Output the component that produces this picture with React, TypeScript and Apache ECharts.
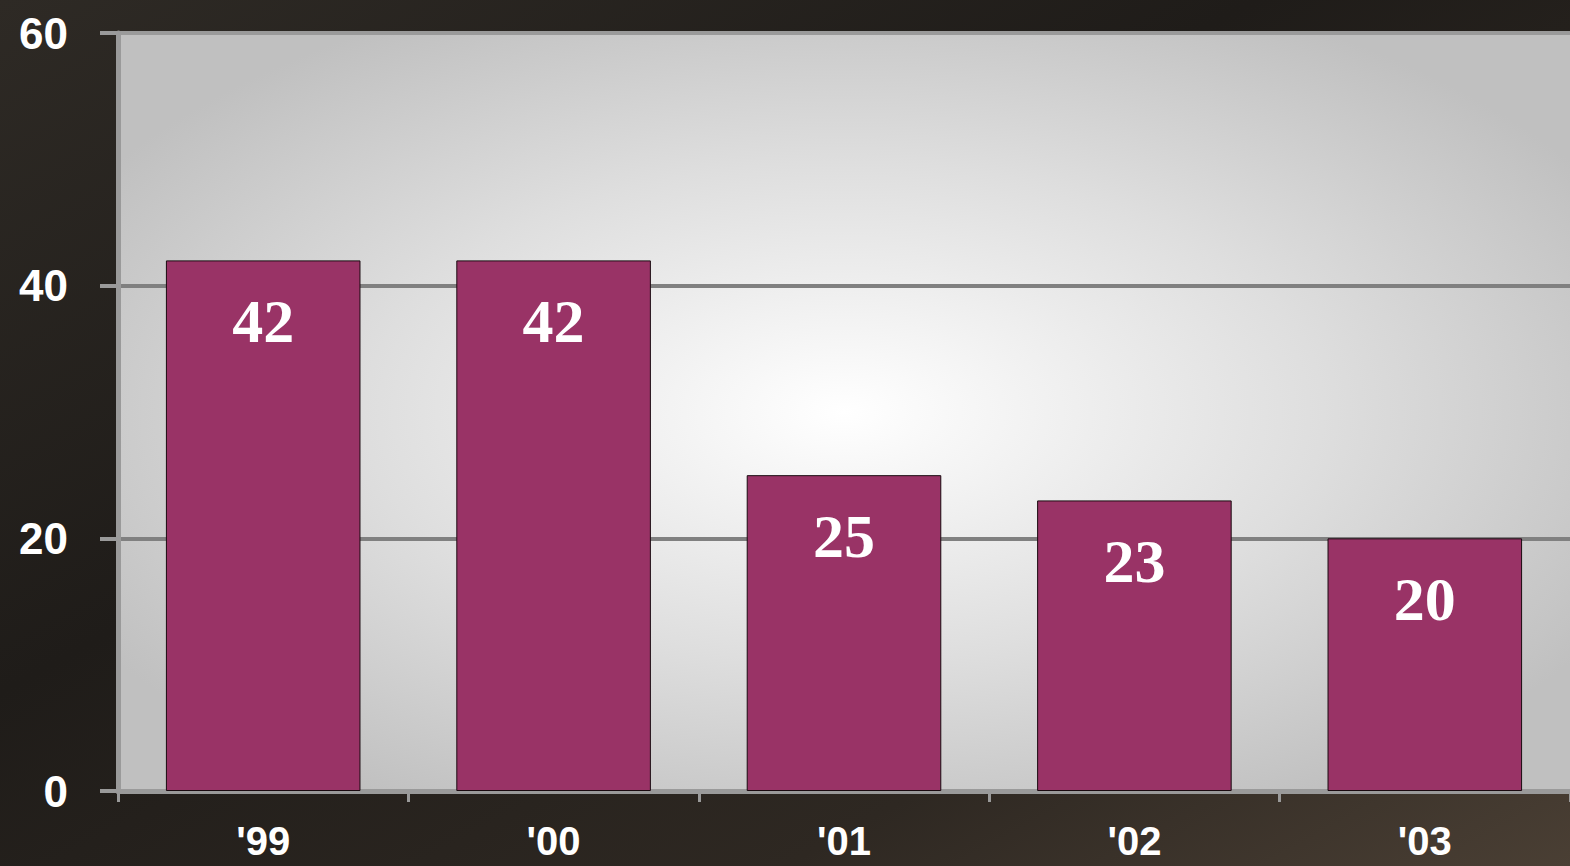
import React, { useEffect, useRef } from "react";
import * as echarts from "echarts";

const categories = ["'99", "'00", "'01", "'02", "'03"];
const values = [42, 42, 25, 23, 20];
const yTicks = { min: 0, max: 60, interval: 20 };

export default function App() {
  const ref = useRef<HTMLDivElement>(null);
  useEffect(() => {
    if (!ref.current) return;
    const chart = echarts.init(ref.current, null, { renderer: "svg" });
    chart.setOption({
      animation: false,
      backgroundColor: new echarts.graphic.LinearGradient(0, 0, 1, 1, [
        { offset: 0, color: "#2e2a25" },
        { offset: 0.4, color: "#1f1c19" },
        { offset: 0.75, color: "#2e2822" },
        { offset: 1, color: "#4a3f34" },
      ]),
      grid: {
        left: 118,
        top: 33,
        width: 1464,
        height: 758,
        show: true,
        borderWidth: 0,
        backgroundColor: new echarts.graphic.RadialGradient(0.5, 0.5, 0.6, [
          { offset: 0, color: "#ffffff" },
          { offset: 0.55, color: "#dedede" },
          { offset: 1, color: "#c0c0c0" },
        ]),
      },
      xAxis: {
        type: "category",
        data: categories,
        axisLine: { show: true, lineStyle: { color: "#9a9a9a", width: 5 } },
        axisTick: {
          show: true,
          length: 11,
          lineStyle: { color: "#9a9a9a", width: 3 },
        },
        axisLabel: {
          color: "#ffffff",
          fontFamily: "Liberation Sans, Arial, sans-serif",
          fontWeight: "bold",
          fontSize: 40,
          margin: 30,
        },
      },
      yAxis: {
        type: "value",
        min: yTicks.min,
        max: yTicks.max,
        interval: yTicks.interval,
        axisLine: { show: true, lineStyle: { color: "#9a9a9a", width: 5 } },
        axisTick: {
          show: true,
          length: 18,
          lineStyle: { color: "#9a9a9a", width: 4 },
        },
        splitLine: {
          show: true,
          lineStyle: { color: ["#808080", "#808080", "#808080", "#9a9a9a"], width: 4 },
        },
        axisLabel: {
          color: "#ffffff",
          fontFamily: "Liberation Sans, Arial, sans-serif",
          fontWeight: "bold",
          fontSize: 44,
          margin: 50,
          padding: [0, 0, 8, 0],
        },
      },
      series: [
        {
          type: "bar",
          data: values,
          barWidth: "67%",
          itemStyle: { color: "#993366", borderColor: "#1a0a10", borderWidth: 1 },
          label: {
            show: true,
            position: "insideTop",
            distance: 30,
            color: "#ffffff",
            fontFamily: "Liberation Serif, Times New Roman, serif",
            fontWeight: "bold",
            fontSize: 62,
          },
        },
      ],
    });
    return () => chart.dispose();
  }, []);
  return (
    <div
      ref={ref}
      style={{ position: "fixed", left: 0, top: 0, width: 1570, height: 866 }}
    />
  );
}
